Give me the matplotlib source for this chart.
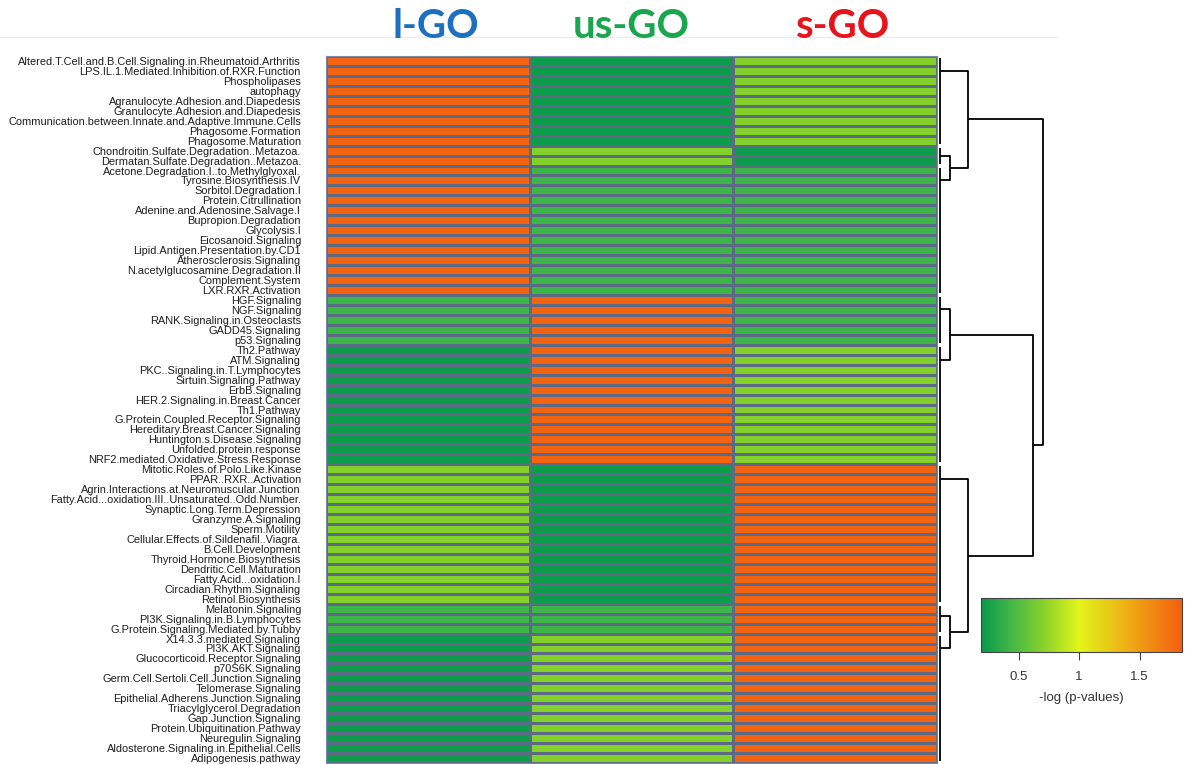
import numpy as np
import matplotlib.pyplot as plt
from matplotlib.colors import LinearSegmentedColormap, Normalize
from matplotlib.cm import ScalarMappable
from matplotlib.lines import Line2D

pathways = [
    "Altered.T.Cell.and.B.Cell.Signaling.in.Rheumatoid.Arthritis",
    "LPS.IL.1.Mediated.Inhibition.of.RXR.Function",
    "Phospholipases",
    "autophagy",
    "Agranulocyte.Adhesion.and.Diapedesis",
    "Granulocyte.Adhesion.and.Diapedesis",
    "Communication.between.Innate.and.Adaptive.Immune.Cells",
    "Phagosome.Formation",
    "Phagosome.Maturation",
    "Chondroitin.Sulfate.Degradation..Metazoa.",
    "Dermatan.Sulfate.Degradation..Metazoa.",
    "Acetone.Degradation.I..to.Methylglyoxal.",
    "Tyrosine.Biosynthesis.IV",
    "Sorbitol.Degradation.I",
    "Protein.Citrullination",
    "Adenine.and.Adenosine.Salvage.I",
    "Bupropion.Degradation",
    "Glycolysis.I",
    "Eicosanoid.Signaling",
    "Lipid.Antigen.Presentation.by.CD1",
    "Atherosclerosis.Signaling",
    "N.acetylglucosamine.Degradation.II",
    "Complement.System",
    "LXR.RXR.Activation",
    "HGF.Signaling",
    "NGF.Signaling",
    "RANK.Signaling.in.Osteoclasts",
    "GADD45.Signaling",
    "p53.Signaling",
    "Th2.Pathway",
    "ATM.Signaling",
    "PKC..Signaling.in.T.Lymphocytes",
    "Sirtuin.Signaling.Pathway",
    "ErbB.Signaling",
    "HER.2.Signaling.in.Breast.Cancer",
    "Th1.Pathway",
    "G.Protein.Coupled.Receptor.Signaling",
    "Hereditary.Breast.Cancer.Signaling",
    "Huntington.s.Disease.Signaling",
    "Unfolded.protein.response",
    "NRF2.mediated.Oxidative.Stress.Response",
    "Mitotic.Roles.of.Polo.Like.Kinase",
    "PPAR..RXR..Activation",
    "Agrin.Interactions.at.Neuromuscular.Junction",
    "Fatty.Acid...oxidation.III..Unsaturated..Odd.Number.",
    "Synaptic.Long.Term.Depression",
    "Granzyme.A.Signaling",
    "Sperm.Motility",
    "Cellular.Effects.of.Sildenafil..Viagra.",
    "B.Cell.Development",
    "Thyroid.Hormone.Biosynthesis",
    "Dendritic.Cell.Maturation",
    "Fatty.Acid...oxidation.I",
    "Circadian.Rhythm.Signaling",
    "Retinol.Biosynthesis",
    "Melatonin.Signaling",
    "PI3K.Signaling.in.B.Lymphocytes",
    "G.Protein.Signaling.Mediated.by.Tubby",
    "X14.3.3.mediated.Signaling",
    "PI3K.AKT.Signaling",
    "Glucocorticoid.Receptor.Signaling",
    "p70S6K.Signaling",
    "Germ.Cell.Sertoli.Cell.Junction.Signaling",
    "Telomerase.Signaling",
    "Epithelial.Adherens.Junction.Signaling",
    "Triacylglycerol.Degradation",
    "Gap.Junction.Signaling",
    "Protein.Ubiquitination.Pathway",
    "Neuregulin.Signaling",
    "Aldosterone.Signaling.in.Epithelial.Cells",
    "Adipogenesis.pathway",
]

samples = ["l-GO", "us-GO", "s-GO"]
sample_colors = ["#1d70c0", "#19a64c", "#e6141b"]

# -log(p-values), one entry per pathway (same order as above)
l_go = [
    1.82, 1.82, 1.82, 1.82, 1.82, 1.82, 1.82, 1.82, 1.82, 1.82,
    1.82, 1.82, 1.82, 1.82, 1.82, 1.82, 1.82, 1.82, 1.82, 1.82,
    1.82, 1.82, 1.82, 1.82, 0.42, 0.42, 0.42, 0.42, 0.42, 0.22,
    0.22, 0.22, 0.22, 0.22, 0.22, 0.22, 0.22, 0.22, 0.22, 0.22,
    0.22, 0.70, 0.70, 0.70, 0.70, 0.70, 0.70, 0.70, 0.70, 0.70,
    0.70, 0.70, 0.70, 0.70, 0.70, 0.42, 0.42, 0.42, 0.22, 0.22,
    0.22, 0.22, 0.22, 0.22, 0.22, 0.22, 0.22, 0.22, 0.22, 0.22,
    0.22,
]
us_go = [
    0.22, 0.22, 0.22, 0.22, 0.22, 0.22, 0.22, 0.22, 0.22, 0.70,
    0.70, 0.42, 0.42, 0.42, 0.42, 0.42, 0.42, 0.42, 0.42, 0.42,
    0.42, 0.42, 0.42, 0.42, 1.82, 1.82, 1.82, 1.82, 1.82, 1.82,
    1.82, 1.82, 1.82, 1.82, 1.82, 1.82, 1.82, 1.82, 1.82, 1.82,
    1.82, 0.22, 0.22, 0.22, 0.22, 0.22, 0.22, 0.22, 0.22, 0.22,
    0.22, 0.22, 0.22, 0.22, 0.22, 0.42, 0.42, 0.42, 0.70, 0.70,
    0.70, 0.70, 0.70, 0.70, 0.70, 0.70, 0.70, 0.70, 0.70, 0.70,
    0.70,
]
s_go = [
    0.70, 0.70, 0.70, 0.70, 0.70, 0.70, 0.70, 0.70, 0.70, 0.22,
    0.22, 0.42, 0.42, 0.42, 0.42, 0.42, 0.42, 0.42, 0.42, 0.42,
    0.42, 0.42, 0.42, 0.42, 0.42, 0.42, 0.42, 0.42, 0.42, 0.70,
    0.70, 0.70, 0.70, 0.70, 0.70, 0.70, 0.70, 0.70, 0.70, 0.70,
    0.70, 1.82, 1.82, 1.82, 1.82, 1.82, 1.82, 1.82, 1.82, 1.82,
    1.82, 1.82, 1.82, 1.82, 1.82, 1.82, 1.82, 1.82, 1.82, 1.82,
    1.82, 1.82, 1.82, 1.82, 1.82, 1.82, 1.82, 1.82, 1.82, 1.82,
    1.82,
]

# row dendrogram: groups of identical rows (first, last) and merges (child, child, height)
leaf_groups = [(0, 8), (9, 10), (11, 23), (24, 28), (29, 40), (41, 54), (55, 57), (58, 70)]
merges = [(1, 2, 0.10), (0, 8, 0.27), (3, 4, 0.10), (6, 7, 0.10),
          (5, 11, 0.27), (10, 12, 0.90), (9, 13, 1.00)]

vmin, vmax = 0.19, 1.85
cmap = LinearSegmentedColormap.from_list("gyr", [
    ((0.19 - vmin) / (vmax - vmin), "#07984c"),
    ((0.42 - vmin) / (vmax - vmin), "#3fb548"),
    ((0.70 - vmin) / (vmax - vmin), "#86d12b"),
    ((1.00 - vmin) / (vmax - vmin), "#e2f51a"),
    ((1.45 - vmin) / (vmax - vmin), "#eea514"),
    ((1.85 - vmin) / (vmax - vmin), "#f45e10"),
])

W, H = 1186, 764
fig = plt.figure(figsize=(W / 100, H / 100), dpi=100)
plt.rcParams["font.family"] = ["Liberation Sans", "DejaVu Sans"]

def px_axes(x0, y0, x1, y1):
    return fig.add_axes([x0 / W, 1 - y1 / H, (x1 - x0) / W, (y1 - y0) / H])

# heatmap
ax = px_axes(326, 56, 937, 763)
data = np.array([l_go, us_go, s_go]).T
n_rows = len(pathways)
ax.pcolormesh(np.arange(len(samples) + 1), np.arange(n_rows + 1), data,
              cmap=cmap, vmin=vmin, vmax=vmax, edgecolors="#5d6a86", linewidth=1.0)
ax.set_xlim(0, len(samples))
ax.set_ylim(n_rows, 0)
ax.set_xticks([])
ax.set_yticks(np.arange(n_rows) + 0.5)
ax.set_yticklabels(pathways, fontsize=7.95, color="#1e1e1e")
ax.tick_params(axis="y", length=0, pad=18)
for s in ax.spines.values():
    s.set_color("#7a8aa8")
    s.set_linewidth(0.8)

# column headers
header_shift = [8, 0, 8]
for i, (name, c) in enumerate(zip(samples, sample_colors)):
    x = (326 + (i + 0.5) * (937 - 326) / len(samples) + header_shift[i]) / W
    fig.text(x, 1 - 27 / H, name, color=c, fontsize=29,
             fontweight="bold", family="Lato", ha="center", va="center")
fig.add_artist(Line2D([0, 1058 / W], [1 - 37 / H, 1 - 37 / H], color="#ececec", lw=1))

# dendrogram
dax = px_axes(937, 56, 1050, 763)
dax.set_ylim(n_rows, 0)
dax.set_xlim(-0.03, 1.07)
dax.axis("off")
lk = dict(color="black", lw=1.3, solid_capstyle="butt")

pos, height = [], []
for first, last in leaf_groups:
    # identical rows merge at height 0, drawn as one leaf line
    p = last + 0.5
    for r in range(last - 1, first - 1, -1):
        p = (r + 0.5 + p) / 2
    dax.plot([0, 0], [first + 0.5 - 0.3, last + 0.5 + 0.3], **lk)
    pos.append(p)
    height.append(0.0)
for a, b, h in merges:
    dax.plot([height[a], h, h, height[b]], [pos[a], pos[a], pos[b], pos[b]], **lk)
    pos.append((pos[a] + pos[b]) / 2)
    height.append(h)

# colour key
cax = px_axes(981, 598, 1182, 652)
cb = fig.colorbar(ScalarMappable(norm=Normalize(vmin, vmax), cmap=cmap),
                  cax=cax, orientation="horizontal", ticks=[0.5, 1, 1.5])
cb.ax.set_xticklabels(["0.5", "1", "1.5"])
cb.ax.tick_params(labelsize=9.5, length=6, width=0.8, color="#444444",
                  labelcolor="#333333", pad=8)
cb.outline.set_edgecolor("#444444")
cb.outline.set_linewidth(0.8)
cb.set_label("-log (p-values)", fontsize=9.5, color="#333333", labelpad=6)

fig.savefig("out.png", dpi=100)
